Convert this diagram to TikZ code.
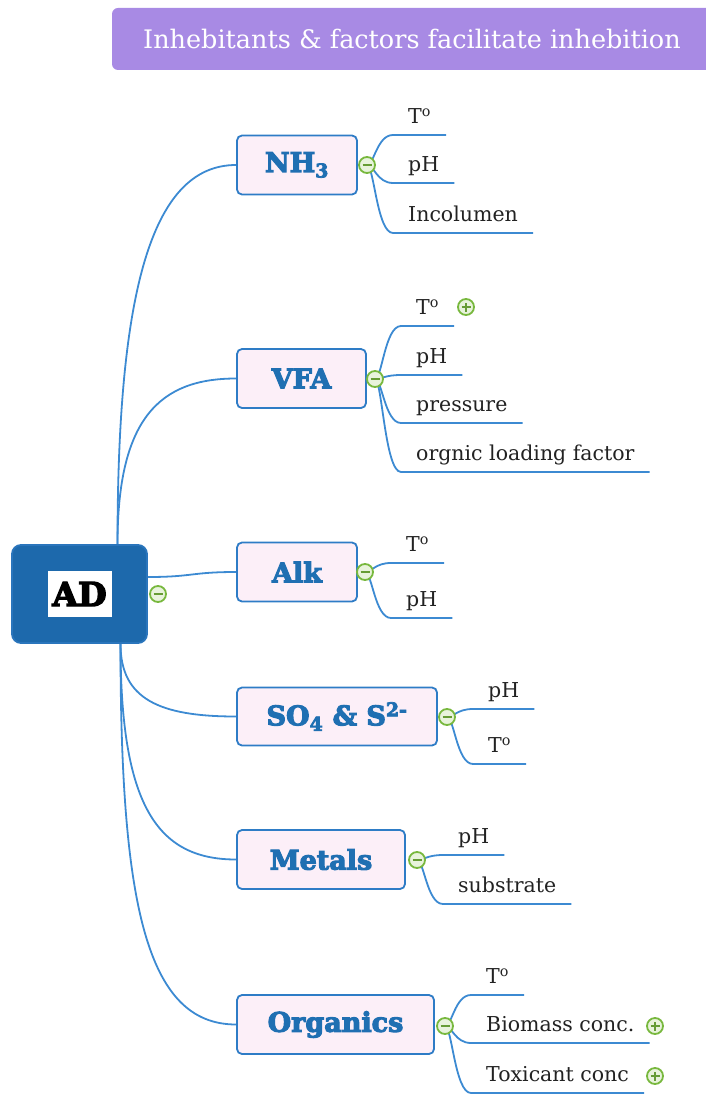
\documentclass[tikz,border=0pt]{standalone}
\usepackage{fontspec}
\setmainfont{DejaVu Serif}
\newfontfamily\topicfont[FakeBold=4]{DejaVu Serif Bold}
\usetikzlibrary{backgrounds}

\definecolor{linkblue}{HTML}{3C8AD2}
\definecolor{boxborder}{HTML}{2E7CC6}
\definecolor{boxfill}{HTML}{FCEFF8}
\definecolor{boxtext}{HTML}{1F6FB2}
\definecolor{rootfill}{HTML}{1D69AC}
\definecolor{rootborder}{HTML}{2A75BC}
\definecolor{titlefill}{HTML}{A88AE4}
\definecolor{toggreen}{HTML}{78B83E}
\definecolor{togfill}{HTML}{E8F3DC}
\definecolor{leaftext}{HTML}{222222}

\tikzset{
  link/.style={draw=linkblue, line width=1.8pt},
  topic/.style={draw=boxborder, fill=boxfill, line width=1.8pt, rounded corners=5pt,
    inner sep=0pt, minimum height=59pt, text=boxtext,
    font=\topicfont\fontsize{27}{30}\selectfont},
  rootbox/.style={draw=rootborder, fill=rootfill, line width=1.8pt, rounded corners=9pt,
    inner sep=0pt, minimum width=135pt, minimum height=98pt},
  rootlabel/.style={fill=white, inner sep=0pt, minimum width=64pt, minimum height=46pt,
    text=black, font=\topicfont\fontsize{33}{36}\selectfont},
  titlebox/.style={fill=titlefill, rounded corners=6pt, inner sep=0pt,
    minimum width=600pt, minimum height=62pt, text=white,
    font=\fontsize{25.5}{28}\selectfont},
  leaf/.style={anchor=south west, inner xsep=15pt, inner ysep=0pt,
    text height=15pt, text depth=11pt, text=leaftext,
    font=\fontsize{20.5}{24}\selectfont},
  togminus/.style={circle, draw=toggreen, fill=togfill, line width=1.8pt,
    minimum size=16pt, inner sep=0pt,
    path picture={\draw[toggreen!85!black, line width=1.8pt]
      ([xshift=-4.5pt]path picture bounding box.center) --
      ([xshift=4.5pt]path picture bounding box.center);}},
  togplus/.style={togminus,
    path picture={\draw[toggreen!85!black, line width=1.8pt]
      ([xshift=-4.5pt]path picture bounding box.center) --
      ([xshift=4.5pt]path picture bounding box.center)
      ([yshift=-4.5pt]path picture bounding box.center) --
      ([yshift=4.5pt]path picture bounding box.center);}},
  branch/.style={link},
}

\begin{document}
\begin{tikzpicture}[x=1pt, y=-1pt]
\useasboundingbox (0,0) rectangle (706,1094);

% title banner
\node[titlebox] (title) at (412,39) {Inhebitants \& factors facilitate inhebition};

% central topic
\node[rootbox] (AD) at (79.5,594) {};
\node[rootlabel] (ADlabel) at (79.5,594) {AD};
\node[togminus] (tAD) at (158,594) {};
\coordinate (ADn) at ([xshift=38pt]AD.north);
\coordinate (ADe) at ([yshift=17pt]AD.east);
\coordinate (ADs) at ([xshift=41pt]AD.south);

% main topics
\node[topic, minimum width=120pt] (NH)  at (297,165)    {NH\textsubscript{3}};
\node[topic, minimum width=129pt] (VFA) at (301.5,378.5) {VFA};
\node[topic, minimum width=120pt] (Alk) at (297,572)    {Alk};
\node[topic, minimum width=200pt, minimum height=58pt] (SO) at (337,716.5) {SO\textsubscript{4} \& S\textsuperscript{2-}};
\node[topic, minimum width=168pt] (Met) at (321,859.5)  {Metals};
\node[topic, minimum width=197pt] (Org) at (335.5,1024.5) {Organics};

% collapse toggles
\node[togminus] (tNH)  at (367,165) {};
\node[togminus] (tVFA) at (375,379) {};
\node[togminus] (tAlk) at (365,572) {};
\node[togminus] (tSO)  at (447,717) {};
\node[togminus] (tMet) at (417,860) {};
\node[togminus] (tOrg) at (445,1026) {};

% sub-topics
\node[leaf] (nh1) at (393,135) {T\textsuperscript{o}};
\node[leaf] (nh2) at (393,183) {pH};
\node[leaf] (nh3) at (393,233) {Incolumen};

\node[leaf] (vf1) at (401,326) {T\textsuperscript{o}};
\node[leaf] (vf2) at (401,375) {pH};
\node[leaf] (vf3) at (401,423) {pressure};
\node[leaf] (vf4) at (401,472) {orgnic loading factor};

\node[leaf] (al1) at (391,563) {T\textsuperscript{o}};
\node[leaf] (al2) at (391,618) {pH};

\node[leaf] (so1) at (473,709) {pH};
\node[leaf] (so2) at (473,764) {T\textsuperscript{o}};

\node[leaf] (me1) at (443,855) {pH};
\node[leaf] (me2) at (443,904) {substrate};

\node[leaf] (or1) at (471,995)  {T\textsuperscript{o}};
\node[leaf] (or2) at (471,1043) {Biomass conc.};
\node[leaf] (or3) at (471,1093) {Toxicant conc};

% expand markers
\node[togplus] (pv1) at (466,307)  {};
\node[togplus] (po2) at (655,1026) {};
\node[togplus] (po3) at (655,1076) {};

\begin{pgfonlayer}{background}
  % connectors from the central topic
  \draw[link] (ADn) .. controls +(0,-245) and +(-87,0) .. (NH.west);
  \draw[link] (ADn) .. controls +(0,-125) and +(-77,0) .. (VFA.west);
  \draw[link] (ADe) .. controls +(45,0) and +(-45,0) .. (Alk.west);
  \draw[link] (ADs) .. controls +(0,55) and +(-77,0) .. (SO.west);
  \draw[link] (ADs) .. controls +(0,160) and +(-80,0) .. (Met.west);
  \draw[link] (ADs) .. controls +(0,260) and +(-90,0) .. (Org.west);

  % branches to sub-topics
  \foreach \t/\c in {tNH/nh1, tNH/nh2, tNH/nh3,
                     tVFA/vf1, tVFA/vf2, tVFA/vf3, tVFA/vf4,
                     tAlk/al1, tAlk/al2,
                     tSO/so1, tSO/so2,
                     tMet/me1, tMet/me2,
                     tOrg/or1, tOrg/or2, tOrg/or3}
    \draw[branch] (\t.center) .. controls +(7,0) and +(-16,0) .. (\c.south west) -- (\c.south east);
\end{pgfonlayer}
\end{tikzpicture}
\end{document}
